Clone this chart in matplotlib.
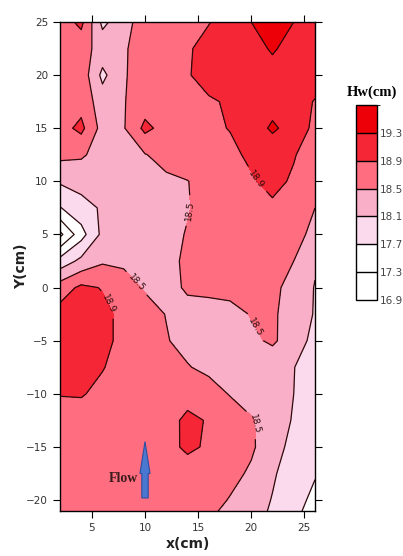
import matplotlib
matplotlib.use("Agg")
import matplotlib.pyplot as plt
import numpy as np
from matplotlib.colors import ListedColormap, BoundaryNorm
from matplotlib.colorbar import ColorbarBase
from matplotlib.patches import FancyArrow

x_cm = [2, 4, 6, 8, 10, 12, 14, 16, 18, 20, 22, 24, 26]
y_cm = [25, 22.5, 20, 17.5, 15, 12.5, 10, 7.5, 5, 2.5, 0, -2.5, -5,
        -7.5, -10, -12.5, -15, -17.5, -20, -22.5]

hw_y25 = [18.70, 19.00, 18.00, 18.35, 18.70, 18.75, 18.80, 18.88, 19.10, 19.30, 19.60, 19.30, 19.20]
hw_y22 = [18.70, 18.65, 18.35, 18.45, 18.70, 18.80, 18.85, 19.05, 19.15, 19.20, 19.33, 19.20, 19.15]
hw_y20 = [18.70, 18.75, 18.00, 18.47, 18.65, 18.80, 18.88, 19.00, 19.10, 19.15, 19.20, 19.15, 19.05]
hw_y17 = [18.70, 18.75, 18.30, 18.48, 18.70, 18.75, 18.80, 18.87, 18.93, 19.05, 19.15, 19.05, 18.88]
hw_y15 = [18.75, 19.00, 18.35, 18.47, 19.00, 18.75, 18.80, 18.85, 18.91, 19.10, 19.36, 19.15, 18.80]
hw_y12 = [18.60, 18.55, 18.35, 18.30, 18.48, 18.65, 18.72, 18.78, 18.84, 18.95, 19.05, 18.92, 18.75]
hw_y10 = [18.15, 18.25, 18.30, 18.33, 18.38, 18.42, 18.49, 18.65, 18.78, 18.87, 18.98, 18.86, 18.70]
hw_y7 = [17.68, 17.95, 18.15, 18.25, 18.32, 18.40, 18.48, 18.62, 18.75, 18.82, 18.85, 18.70, 18.50]
hw_y5 = [16.80, 17.55, 18.20, 18.28, 18.33, 18.40, 18.52, 18.62, 18.70, 18.75, 18.70, 18.60, 18.42]
hw_y2 = [17.85, 18.20, 18.45, 18.45, 18.38, 18.42, 18.55, 18.62, 18.65, 18.65, 18.60, 18.50, 18.15]
hw_y0 = [18.70, 18.98, 18.88, 18.62, 18.47, 18.35, 18.56, 18.62, 18.62, 18.60, 18.58, 18.38, 18.08]
hw_m2 = [19.05, 19.10, 19.00, 18.80, 18.62, 18.49, 18.35, 18.30, 18.38, 18.52, 18.55, 18.35, 18.07]
hw_m5 = [19.05, 19.12, 19.02, 18.78, 18.65, 18.52, 18.40, 18.30, 18.32, 18.42, 18.56, 18.30, 17.98]
hw_m7 = [19.00, 19.05, 18.92, 18.75, 18.68, 18.60, 18.52, 18.42, 18.35, 18.30, 18.25, 18.11, 17.90]
hw_m10 = [18.92, 18.93, 18.80, 18.70, 18.70, 18.75, 18.80, 18.65, 18.48, 18.35, 18.25, 18.10, 17.90]
hw_m12 = [18.70, 18.72, 18.70, 18.68, 18.70, 18.80, 18.96, 18.88, 18.70, 18.53, 18.35, 18.06, 17.85]
hw_m15 = [18.68, 18.68, 18.68, 18.66, 18.68, 18.78, 18.97, 18.85, 18.68, 18.55, 18.30, 17.95, 17.78]
hw_m17 = [18.66, 18.66, 18.65, 18.65, 18.66, 18.68, 18.72, 18.70, 18.60, 18.45, 18.15, 17.90, 17.73]
hw_m20 = [18.65, 18.65, 18.64, 18.64, 18.64, 18.65, 18.66, 18.62, 18.48, 18.30, 18.08, 17.85, 17.60]
hw_m22 = [18.65, 18.65, 18.64, 18.63, 18.63, 18.63, 18.62, 18.48, 18.38, 18.22, 18.00, 17.72, 17.50]

levels = [16.5, 16.9, 17.3, 17.7, 18.1, 18.5, 18.9, 19.3, 19.7]
band_colors = ['#FFFFFF', '#FFFFFF', '#FFFFFF', '#FCDAEE', '#FAAFC8',
               '#FF6E80', '#F52636', '#EE0008']
cbar_levels = [16.9, 17.3, 17.7, 18.1, 18.5, 18.9, 19.3, 19.7]
line_levels = [16.9, 17.3, 17.7, 18.1, 19.3]
label_levels = [18.5, 18.9]

Z = np.array([hw_y25, hw_y22, hw_y20, hw_y17, hw_y15, hw_y12, hw_y10, hw_y7,
              hw_y5, hw_y2, hw_y0, hw_m2, hw_m5, hw_m7, hw_m10, hw_m12,
              hw_m15, hw_m17, hw_m20, hw_m22])
X, Y = np.meshgrid(x_cm, y_cm)

fig = plt.figure(figsize=(4.03, 5.56), dpi=100)
ax = fig.add_axes([60 / 403, 1 - 510.7 / 556, 255 / 403, 488.7 / 556])

ax.contourf(X, Y, Z, levels=levels, colors=band_colors)
ax.contour(X, Y, Z, levels=line_levels, colors='#2a0a0a', linewidths=0.9)
cs = ax.contour(X, Y, Z, levels=label_levels, colors='#2a0a0a', linewidths=0.9)
ax.clabel(cs, fmt='%.1f', fontsize=6.5, inline=True,
          manual=[(14.0, 7.3), (20.4, 10.1), (9.2, 0.4), (6.7, -1.5),
                  (20.3, -3.8), (20.5, -12.8)])

ax.set_xlim(2, 26)
ax.set_ylim(-21, 25)
ax.set_xticks([5, 10, 15, 20, 25])
ax.set_yticks([-20, -15, -10, -5, 0, 5, 10, 15, 20, 25])
ax.tick_params(direction='out', length=5, width=0.8, labelsize=7.5,
               labelcolor='#333333', top=True, right=True)
for s in ax.spines.values():
    s.set_linewidth(1.0)

ax.set_xlabel('x(cm)', fontsize=10, fontweight='bold', color='#222222')
ax.set_ylabel('Y(cm)', fontsize=10, fontweight='bold', color='#222222')
ax.xaxis.set_label_coords(0.5, -0.054)
ax.yaxis.set_label_coords(-0.125, 0.5)

# flow direction
ax.add_patch(FancyArrow(10, -19.8, 0, 5.3, width=0.6, head_width=0.95,
                        head_length=3.0, length_includes_head=True,
                        fc='#4A78D0', ec='#2E4E9E', lw=0.8))
ax.text(9.3, -18.0, 'Flow', ha='right', va='center', fontsize=10,
        fontweight='bold', family='Liberation Serif', color='#3a1a1a')

# colour bar
cax = fig.add_axes([356 / 403, 1 - 300 / 556, 21 / 403, 195 / 556])
cmap = ListedColormap(band_colors[1:])
norm = BoundaryNorm(cbar_levels, cmap.N)
cb = ColorbarBase(cax, cmap=cmap, norm=norm, boundaries=cbar_levels,
                  ticks=cbar_levels[:-1], drawedges=True)
cb.outline.set_linewidth(1.0)
cb.dividers.set_linewidth(1.0)
cax.tick_params(length=0, labelsize=7.5, labelcolor='#444444', pad=2)
cax.set_yticklabels([f'{v:.1f}' for v in cbar_levels[:-1]])

fig.text(372 / 403, 1 - 92 / 556, 'Hw(cm)', ha='center', va='center',
         fontsize=10.5, fontweight='bold', family='Liberation Serif')

fig.savefig('out.png', dpi=100)
